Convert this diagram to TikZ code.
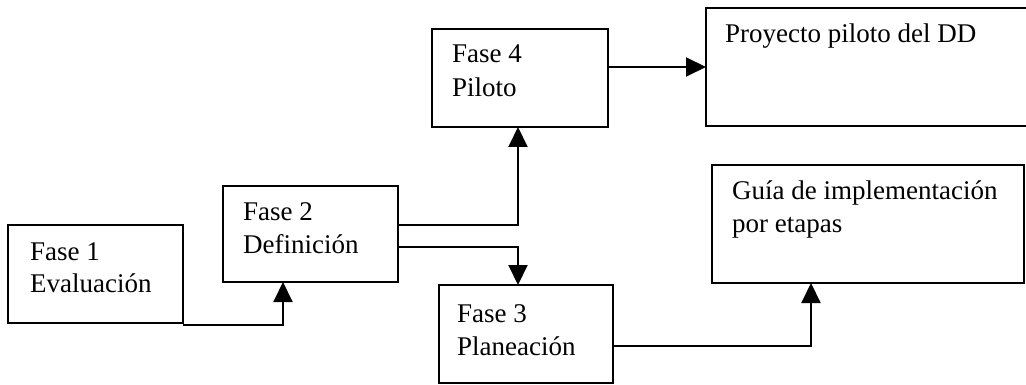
\documentclass[tikz,border=0pt]{standalone}
\usepackage{fontspec}
\setmainfont{Liberation Serif}
\usetikzlibrary{arrows.meta,calc}
\tikzset{
  box/.style={draw, line width=2pt, rectangle, anchor=north west, inner sep=0pt, outer sep=0pt},
  lbl/.style={anchor=base west, inner sep=0pt, font=\fontsize{27}{33}\selectfont},
  arr/.style={line width=2pt, -{Triangle[length=20pt,width=19pt]}},
}
\begin{document}
\begin{tikzpicture}[x=1pt,y=-1pt]
\clip (0,0) rectangle (1026,385);
\fill[white] (0,0) rectangle (1026,385);

% phase boxes
\node[box, minimum width=175pt, minimum height=98pt] (f1) at (8,225) {};
\node[box, minimum width=175pt, minimum height=96pt] (f2) at (223,186) {};
\node[box, minimum width=174pt, minimum height=98pt] (f3) at (439,285) {};
\node[box, minimum width=176pt, minimum height=98pt] (f4) at (432,29) {};
% result boxes
\node[box, minimum width=334pt, minimum height=118pt] (proy) at (706,8) {};
\node[box, minimum width=312pt, minimum height=118pt] (guia) at (712,165) {};

% labels
\node[lbl] (f1a) at (30,260) {Fase 1};
\node[lbl] (f1b) at (30,292) {Evaluación};
\node[lbl] (f2a) at (243,220) {Fase 2};
\node[lbl] (f2b) at (243,253) {Definición};
\node[lbl] (f4a) at (452,63) {Fase 4};
\node[lbl] (f4b) at (452,97) {Piloto};
\node[lbl] (f3a) at (457,322) {Fase 3};
\node[lbl] (f3b) at (457,355) {Planeación};
\node[lbl] (pa) at (725,43) {Proyecto piloto del DD};
\node[lbl] (ga) at (732,200) {Guía de implementación};
\node[lbl] (gb) at (732,232) {por etapas};

% connectors
\draw[arr] ($(f1.south east)+(0,2)$) -| ($(f2.south west)+(60,0)$);
\draw[arr] ($(f2.north east)+(0,39)$) -| ($(f4.south west)+(86,0)$);
\draw[arr] ($(f2.north east)+(0,61)$) -| ($(f3.north west)+(79,0)$);
\draw[arr] (f4.east |- proy.west) -- (proy.west);
\draw[arr] ($(f3.north east)+(0,61)$) -| ($(guia.south west)+(99,0)$);
\end{tikzpicture}
\end{document}
